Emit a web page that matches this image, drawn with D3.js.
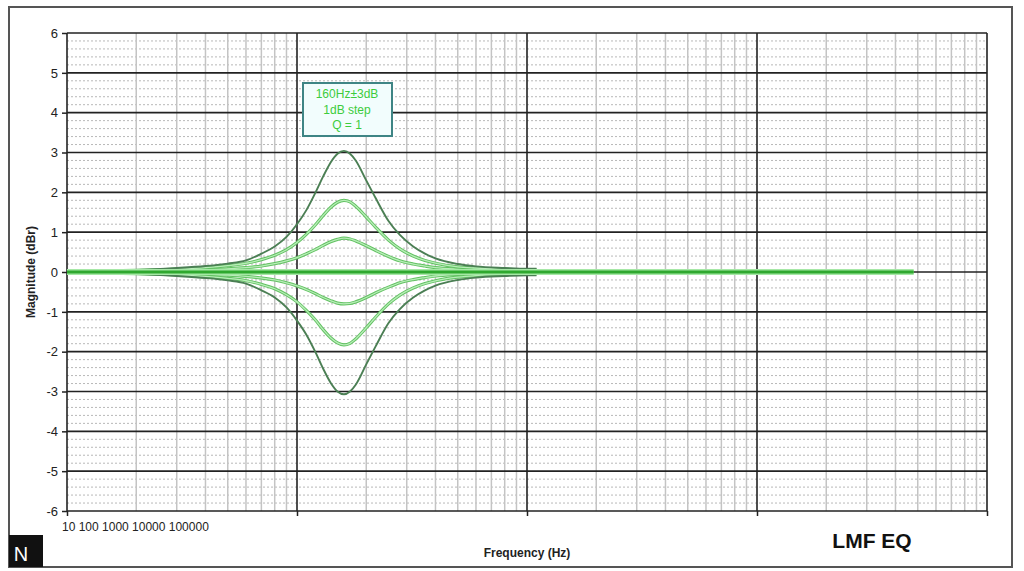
<!DOCTYPE html>
<html>
<head>
<meta charset="utf-8">
<script src="https://cdn.jsdelivr.net/npm/d3@7/dist/d3.min.js"></script>
<style>
  body { margin: 0; background: #fff; }
  svg text { font-family: "Liberation Sans", Arial, sans-serif; }
  .axis path { display: none; }
  .axis line { stroke: #222; stroke-width: 1.5; }
  .axis text { font-size: 13px; fill: #222; }
</style>
</head>
<body>
<script>
// frequencies (Hz) for the EQ curves
var freqs = [10, 20, 30, 40, 50, 60, 70, 80, 90, 100, 110, 120, 130, 140, 150, 160,
             170, 180, 200, 220, 250, 280, 320, 360, 400, 500, 600, 800, 1000, 1100];
// boost / cut curves (dBr)
var gainPlus3  = [0.02, 0.05, 0.10, 0.15, 0.21, 0.29, 0.46, 0.64, 0.88, 1.20, 1.56, 1.98, 2.40, 2.75, 2.97, 3.04,
                  2.97, 2.80, 2.30, 1.85, 1.28, 0.93, 0.64, 0.46, 0.34, 0.20, 0.14, 0.10, 0.08, 0.08];
var gainPlus2  = [0.01, 0.04, 0.07, 0.11, 0.16, 0.22, 0.31, 0.42, 0.56, 0.74, 0.95, 1.18, 1.42, 1.62, 1.75, 1.80,
                  1.76, 1.65, 1.38, 1.12, 0.80, 0.58, 0.40, 0.29, 0.22, 0.13, 0.10, 0.07, 0.06, 0.06];
var gainPlus1  = [0.01, 0.02, 0.04, 0.06, 0.08, 0.11, 0.15, 0.21, 0.28, 0.36, 0.46, 0.56, 0.67, 0.76, 0.82, 0.85,
                  0.83, 0.78, 0.66, 0.54, 0.39, 0.28, 0.20, 0.15, 0.11, 0.07, 0.05, 0.04, 0.03, 0.03];
var gainMinus1 = [-0.01, -0.02, -0.04, -0.06, -0.08, -0.11, -0.15, -0.20, -0.27, -0.35, -0.44, -0.54, -0.64, -0.72, -0.78, -0.80,
                  -0.79, -0.75, -0.64, -0.52, -0.38, -0.27, -0.19, -0.14, -0.10, -0.06, -0.04, -0.03, -0.02, -0.02];
var gainMinus2 = [-0.01, -0.04, -0.07, -0.11, -0.16, -0.22, -0.31, -0.42, -0.57, -0.75, -0.97, -1.20, -1.45, -1.65, -1.78, -1.83,
                  -1.79, -1.68, -1.40, -1.13, -0.80, -0.58, -0.40, -0.29, -0.22, -0.13, -0.09, -0.06, -0.05, -0.05];
var gainMinus3 = [-0.02, -0.05, -0.10, -0.15, -0.21, -0.29, -0.46, -0.64, -0.89, -1.22, -1.58, -2.00, -2.43, -2.78, -3.00, -3.07,
                  -3.00, -2.83, -2.32, -1.86, -1.28, -0.93, -0.64, -0.46, -0.34, -0.20, -0.14, -0.10, -0.08, -0.08];
// flat (0 dB) trace
var flatFreqs = [10, 100, 1000, 10000, 48000];
var flatGain  = [0, 0, 0, 0, 0];

var yTicks = [-6, -5, -4, -3, -2, -1, 0, 1, 2, 3, 4, 5, 6];
var decades = [10, 100, 1000, 10000, 100000];
var xTickLabel = "10 100 1000 10000 100000";
var legendLines = ["160Hz\u00b13dB", "1dB step", "Q = 1"];

var W = 1024, H = 571;
var plotL = 67, plotR = 987, plotT = 33, plotB = 511;

var svg = d3.select("body").append("svg")
  .attr("width", W).attr("height", H);

// outer frame
svg.append("rect")
  .attr("x", 9).attr("y", 7).attr("width", 1003).attr("height", 560)
  .attr("fill", "#fff").attr("stroke", "#555").attr("stroke-width", 2);

var x = d3.scaleLog().domain([10, 100000]).range([plotL, plotR]);
var y = d3.scaleLinear().domain([-6, 6]).range([plotB, plotT]);

var grid = svg.append("g");

// minor horizontal dotted lines (0.2 dB)
var minorY = d3.range(-6, 6.001, 0.2).filter(function(v) {
  return Math.abs(v - Math.round(v)) > 0.01;
});
grid.selectAll(".hmin").data(minorY).enter().append("line")
  .attr("x1", plotL).attr("x2", plotR)
  .attr("y1", function(d) { return y(d); }).attr("y2", function(d) { return y(d); })
  .attr("stroke", "#b8b8b8").attr("stroke-width", 1)
  .attr("stroke-dasharray", "2,2");

// minor vertical lines (2..9 each decade)
var minorX = [];
decades.slice(0, 4).forEach(function(d) {
  for (var k = 2; k <= 9; k++) minorX.push(d * k);
});
grid.selectAll(".vmin").data(minorX).enter().append("line")
  .attr("x1", function(d) { return x(d); }).attr("x2", function(d) { return x(d); })
  .attr("y1", plotT).attr("y2", plotB)
  .attr("stroke", "#c4c4c4").attr("stroke-width", 1.5);

// major horizontal lines
grid.selectAll(".hmaj").data(yTicks).enter().append("line")
  .attr("x1", plotL).attr("x2", plotR)
  .attr("y1", function(d) { return y(d); }).attr("y2", function(d) { return y(d); })
  .attr("stroke", "#222").attr("stroke-width", 1.6);

// major vertical lines
grid.selectAll(".vmaj").data(decades).enter().append("line")
  .attr("x1", function(d) { return x(d); }).attr("x2", function(d) { return x(d); })
  .attr("y1", plotT).attr("y2", plotB)
  .attr("stroke", "#222").attr("stroke-width", 1.6);

// axes
svg.append("g").attr("class", "axis")
  .attr("transform", "translate(" + plotL + ",0)")
  .call(d3.axisLeft(y).tickValues(yTicks).tickSize(5).tickPadding(4)
    .tickFormat(function(d) { return String(d); }));

svg.append("g").attr("class", "axis")
  .attr("transform", "translate(0," + plotB + ")")
  .call(d3.axisBottom(x).tickValues(decades).tickSize(5).tickFormat(""));

svg.append("text")
  .attr("x", 62).attr("y", 531)
  .attr("font-size", 12).attr("fill", "#222")
  .text(xTickLabel);

// curves
var line = d3.line()
  .x(function(d) { return x(d[0]); })
  .y(function(d) { return y(d[1]); })
  .curve(d3.curveMonotoneX);

function pairs(fs, gs) { return fs.map(function(f, i) { return [f, gs[i]]; }); }

var plot = svg.append("g");

[gainPlus1, gainMinus1, gainPlus2, gainMinus2].forEach(function(g) {
  plot.append("path").attr("d", line(pairs(freqs, g)))
    .attr("fill", "none").attr("stroke", "#62c262").attr("stroke-width", 3.2);
  plot.append("path").attr("d", line(pairs(freqs, g)))
    .attr("fill", "none").attr("stroke", "#b8edb8").attr("stroke-width", 1.3);
});
[gainPlus3, gainMinus3].forEach(function(g) {
  plot.append("path").attr("d", line(pairs(freqs, g)))
    .attr("fill", "none").attr("stroke", "#4b7f54").attr("stroke-width", 1.9);
});

plot.append("path").attr("d", line(pairs(flatFreqs, flatGain)))
  .attr("fill", "none").attr("stroke", "#a6e8a6").attr("stroke-width", 6);
plot.append("path").attr("d", line(pairs(flatFreqs, flatGain)))
  .attr("fill", "none").attr("stroke", "#2fa82f").attr("stroke-width", 3.2);

// legend box
var lg = svg.append("g");
lg.append("rect")
  .attr("x", 303).attr("y", 83).attr("width", 89).attr("height", 53)
  .attr("fill", "#f2fdfd").attr("stroke", "#3f8585").attr("stroke-width", 2);
lg.selectAll("text").data(legendLines).enter().append("text")
  .attr("x", 347).attr("y", function(d, i) { return 98 + i * 15.5; })
  .attr("text-anchor", "middle").attr("font-size", 12).attr("fill", "#3ccc3c")
  .text(function(d) { return d; });

// axis titles
svg.append("text")
  .attr("x", 527).attr("y", 557).attr("text-anchor", "middle")
  .attr("font-size", 12).attr("font-weight", "bold").attr("fill", "#222")
  .text("Frequency (Hz)");

svg.append("text")
  .attr("transform", "translate(35,272) rotate(-90)").attr("text-anchor", "middle")
  .attr("font-size", 12).attr("font-weight", "bold").attr("fill", "#222")
  .text("Magnitude (dBr)");

svg.append("text")
  .attr("x", 872).attr("y", 548).attr("text-anchor", "middle")
  .attr("font-family", "Lato, 'DejaVu Sans', sans-serif")
  .attr("font-size", 21).attr("font-weight", "bold").attr("fill", "#111")
  .text("LMF EQ");

// N logo
svg.append("rect")
  .attr("x", 9).attr("y", 535).attr("width", 34).attr("height", 32)
  .attr("fill", "#111");
svg.append("text")
  .attr("x", 21).attr("y", 561).attr("text-anchor", "middle")
  .attr("font-size", 20).attr("fill", "#fff")
  .text("N");
</script>
</body>
</html>
